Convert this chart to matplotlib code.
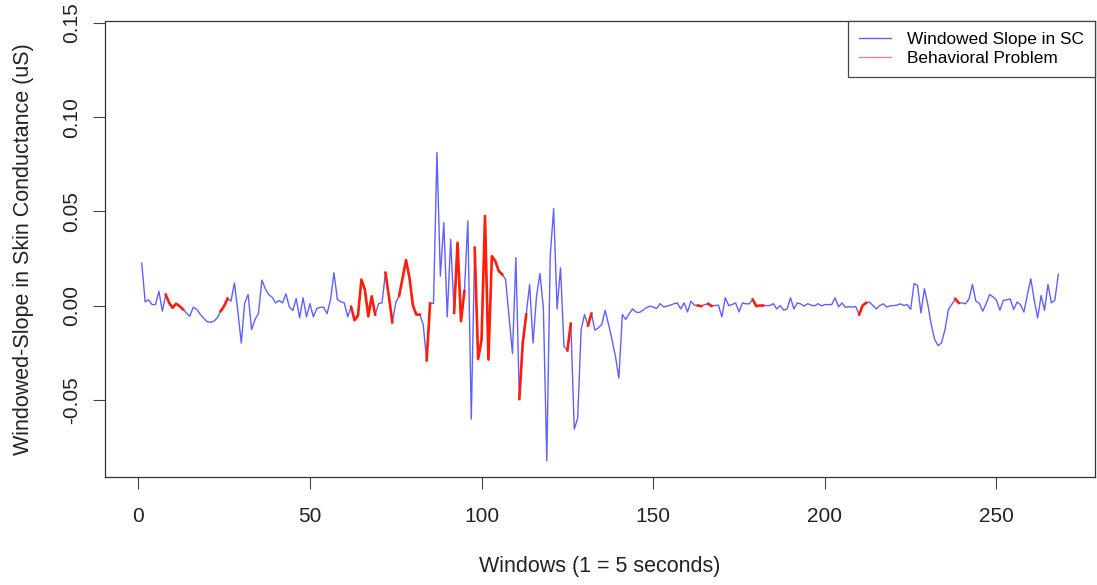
import numpy as np
import matplotlib as mpl
mpl.use('Agg')
import matplotlib.pyplot as plt

plt.rcParams['font.family'] = ['Liberation Sans', 'DejaVu Sans']

# windowed slope of skin conductance, one value per 5 s window
slope = [
    0.0225, 0.0020, 0.0030, 0.0005, 0.0005, 0.0076, -0.0030, 0.0058, 0.0014, -0.0012,
    0.0010, -0.0003, -0.0020, -0.0039, -0.0057, -0.0009, -0.0020, -0.0045, -0.0067, -0.0085,
    -0.0089, -0.0083, -0.0066, -0.0030, -0.0003, 0.0037, 0.0023, 0.0120, -0.0030, -0.0199,
    0.0014, 0.0058, -0.0128, -0.0074, -0.0043, 0.0135, 0.0089, 0.0058, 0.0044, 0.0014,
    0.0027, 0.0014, 0.0062, -0.0007, -0.0027, 0.0037, -0.0066, 0.0041, -0.0060, 0.0010,
    -0.0060, -0.0016, -0.0009, -0.0009, -0.0043, 0.0032, 0.0174, 0.0032, 0.0020, 0.0014,
    -0.0060, -0.0007, -0.0078, -0.0053, 0.0138, 0.0085, -0.0057, 0.0049, -0.0048, 0.0010,
    0.0014, 0.0174, 0.0049, -0.0089, 0.0014, 0.0053, 0.0147, 0.0241, 0.0147, 0.0000,
    -0.0048, -0.0048, -0.0101, -0.0291, 0.0011, 0.0011, 0.0812, 0.0156, 0.0440, -0.0060,
    0.0351, -0.0039, 0.0333, -0.0083, 0.0076, 0.0449, -0.0603, 0.0307, -0.0284, -0.0181,
    0.0475, -0.0287, 0.0262, 0.0236, 0.0183, 0.0165, 0.0138, -0.0057, -0.0255, 0.0254,
    -0.0496, -0.0199, -0.0048, 0.0112, -0.0199, 0.0049, 0.0170, -0.0012, -0.0824, 0.0262,
    0.0514, -0.0018, 0.0200, -0.0216, -0.0238, -0.0096, -0.0656, -0.0598, -0.0128, -0.0048,
    -0.0106, -0.0043, -0.0131, -0.0119, -0.0101, -0.0025, -0.0101, -0.0181, -0.0270, -0.0385,
    -0.0048, -0.0074, -0.0043, -0.0018, -0.0035, -0.0037, -0.0025, -0.0012, -0.0003, -0.0008,
    -0.0016, 0.0010, -0.0008, -0.0003, 0.0002, 0.0009, 0.0014, -0.0018, 0.0014, -0.0034,
    0.0023, 0.0002, 0.0000, -0.0003, 0.0005, 0.0009, -0.0002, 0.0000, 0.0002, -0.0060,
    0.0041, 0.0000, 0.0005, 0.0014, -0.0034, 0.0014, 0.0009, 0.0009, 0.0032, -0.0003,
    0.0000, 0.0000, 0.0000, 0.0000, 0.0010, -0.0018, 0.0000, -0.0025, -0.0018, 0.0041,
    -0.0018, 0.0014, 0.0008, -0.0003, 0.0010, 0.0002, -0.0002, 0.0010, -0.0002, 0.0005,
    0.0005, 0.0005, 0.0041, -0.0007, 0.0014, -0.0010, -0.0006, -0.0008, -0.0006, -0.0048,
    0.0000, 0.0014, 0.0018, 0.0000, -0.0018, 0.0000, 0.0009, -0.0008, -0.0002, 0.0000,
    0.0002, 0.0009, 0.0000, 0.0005, -0.0020, 0.0117, 0.0107, -0.0039, 0.0089, 0.0005,
    -0.0101, -0.0181, -0.0213, -0.0197, -0.0128, -0.0021, 0.0007, 0.0035, 0.0014, 0.0014,
    0.0009, 0.0035, 0.0112, 0.0023, 0.0012, -0.0030, 0.0010, 0.0058, 0.0046, 0.0028,
    -0.0025, 0.0028, 0.0030, 0.0035, -0.0021, 0.0018, 0.0005, -0.0035, 0.0058, 0.0142,
    0.0028, -0.0066, 0.0053, -0.0025, 0.0112, 0.0014, 0.0028, 0.0165,
]

# windows flagged as behavioural problem (inclusive ranges)
problem_ranges = [(8, 13), (24, 26), (62, 69), (72, 74), (76, 82), (84, 85),
                  (92, 95), (98, 106), (111, 113), (125, 126), (131, 132),
                  (163, 164), (166, 167), (179, 182), (210, 212), (238, 239)]

windows = np.arange(1, len(slope) + 1)
slope = np.array(slope)

flag = np.zeros(len(slope), dtype=bool)
for a, b in problem_ranges:
    flag[a - 1:b] = True
problem = np.where(flag, slope, np.nan)

fig = plt.figure(figsize=(10.97, 5.85), dpi=100)
ax = fig.add_axes([105 / 1097, 108 / 585, 990 / 1097, 456 / 585])

ax.plot(windows, slope, color='#6060ff', lw=1.0, label='Windowed Slope in SC')
ax.plot(windows, problem, color='#ff1e0a', lw=1.9)
# legend entry for the red line is drawn lighter
ax.plot([], [], color='#ff8080', lw=1.0, label='Behavioral Problem')

ax.set_xlim(-9.7, 278.7)
ax.set_ylim(-0.091, 0.151)
ax.set_xticks([0, 50, 100, 150, 200, 250])
ax.set_yticks([-0.05, 0.0, 0.05, 0.10, 0.15])
ax.set_yticklabels(['-0.05', '0.00', '0.05', '0.10', '0.15'], rotation=90, va='center')

ax.tick_params(axis='both', direction='out', length=8.5, width=0.8, color='#444444',
               labelsize=15, labelcolor='#222222')
ax.tick_params(axis='x', pad=13)
ax.tick_params(axis='y', pad=9)

for s in ax.spines.values():
    s.set_linewidth(0.9)
    s.set_color('#333333')

ax.set_xlabel('Windows (1 = 5 seconds)', fontsize=15.5, color='#222222', labelpad=22)
ax.set_ylabel('Windowed-Slope in Skin Conductance (uS)', fontsize=15.5, color='#222222', labelpad=20)

leg = ax.legend(loc='upper right', borderaxespad=0, fancybox=False, framealpha=1,
                edgecolor='#444444', fontsize=12.4, handlelength=1.9, handletextpad=0.9,
                labelspacing=0.2, borderpad=0.65)
leg.get_frame().set_linewidth(0.9)

fig.savefig('out.png', dpi=100)
